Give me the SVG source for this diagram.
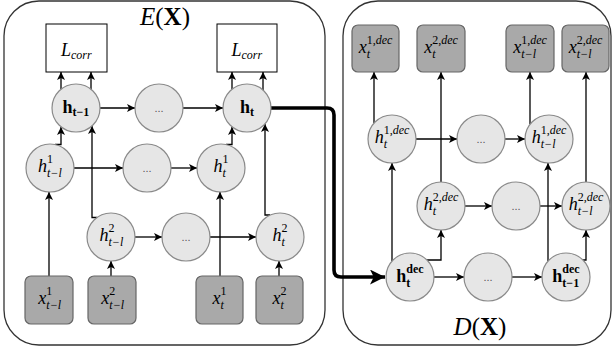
<svg xmlns="http://www.w3.org/2000/svg" width="613" height="351" viewBox="0 0 613 351">
<style>
.frame{fill:none;stroke:#333;stroke-width:1.3}
.nd circle{fill:#e6e6e6;stroke:#8a8a8a;stroke-width:1.2}
.in rect{fill:#a9a9a9;stroke:#666;stroke-width:1.2}
.loss rect{fill:#fff;stroke:#000;stroke-width:1}
.edge{fill:none;stroke:#000;stroke-width:1.3;marker-end:url(#ah)}
.thick{fill:none;stroke:#000;stroke-width:3.6;marker-end:url(#ahb)}
text{font-family:"Liberation Serif","DejaVu Serif",serif;fill:#000}
.m{font-style:italic;font-size:18px}
.bd{font-weight:bold;font-style:normal;font-size:18px}
.s{font-size:12px}
.u{font-style:normal}
.dots{font-family:"Liberation Sans",sans-serif;font-size:11px;fill:#555;text-anchor:middle;font-style:normal}
.title{font-size:25px;text-anchor:middle}
</style>
<defs>
<marker id="ah" viewBox="0 0 10 10" refX="10" refY="5" markerWidth="9" markerHeight="8" orient="auto" markerUnits="userSpaceOnUse"><path d="M0,0 L10,5 L0,10 L2.5,5 z" fill="#000"/></marker>
<marker id="ahb" viewBox="0 0 10 10" refX="10" refY="5" markerWidth="19" markerHeight="15" orient="auto" markerUnits="userSpaceOnUse"><path d="M0,0 L10,5 L0,10 L2.5,5 z" fill="#000"/></marker>
</defs>

<rect class="frame" x="4" y="1" width="321" height="344" rx="35"/>
<rect class="frame" x="343" y="1" width="268" height="344" rx="35"/>
<text class="title" x="165" y="25"><tspan font-style="italic">E</tspan>(<tspan font-weight="bold">X</tspan>)</text>
<text class="title" x="480" y="335" font-size="26"><tspan font-style="italic">D</tspan>(<tspan font-weight="bold">X</tspan>)</text>

<g id="connectors">
<path class="edge" d="M100,108 H135"/>
<path class="edge" d="M183,108 H223"/>
<path class="edge" d="M74,168 H123"/>
<path class="edge" d="M171,168 H197"/>
<path class="edge" d="M135,237 H162"/>
<path class="edge" d="M210,237 H256"/>
<path class="edge" d="M55,144.5 H61 V127"/>
<path class="edge" d="M97,217.5 H92 V126"/>
<path class="edge" d="M226,144.5 H232 V127"/>
<path class="edge" d="M270,215 H265 V124"/>
<path class="edge" d="M61,89 V72"/>
<path class="edge" d="M91,90 V72"/>
<path class="edge" d="M232,89 V72"/>
<path class="edge" d="M263,90 V72"/>
<path class="edge" d="M49,276 V192"/>
<path class="edge" d="M111,276 V261"/>
<path class="edge" d="M220,276 V192"/>
<path class="edge" d="M279,276 V261"/>
<path class="thick" d="M271,108 H327 Q334,108 334,115 V270 Q334,277 341,277 H385"/>
<path class="edge" d="M416,139 H457"/>
<path class="edge" d="M505,139 H525"/>
<path class="edge" d="M465,206 H492"/>
<path class="edge" d="M540,206 H562"/>
<path class="edge" d="M434,277 H464"/>
<path class="edge" d="M512,277 H542"/>
<path class="edge" d="M374,123 V72"/>
<path class="edge" d="M441,182 V72"/>
<path class="edge" d="M530,124 V72"/>
<path class="edge" d="M586,182 V72"/>
<path class="edge" d="M392,261 V163"/>
<path class="edge" d="M427,260 H441 V230"/>
<path class="edge" d="M548,261 V163"/>
<path class="edge" d="M583,260 H586 V230"/>
</g>

<g id="Lcorr1" class="loss"><rect x="46" y="24" width="61" height="48"/><text class="m" x="61" y="56" font-size="19">L<tspan class="s" dy="3">corr</tspan></text></g>
<g id="Lcorr2" class="loss"><rect x="217" y="24" width="60" height="48"/><text class="m" x="231.5" y="56" font-size="19">L<tspan class="s" dy="3">corr</tspan></text></g>

<g id="h_t-1" class="nd"><circle cx="76" cy="108" r="24"/><text class="bd" x="62.5" y="113">h<tspan font-size="12" dy="3">t−1</tspan></text></g>
<g id="e_dots1" class="nd"><circle cx="159" cy="108" r="24"/><text class="dots" x="159" y="112">...</text></g>
<g id="h_t" class="nd"><circle cx="247" cy="108" r="24"/><text class="bd" x="240" y="113">h<tspan font-size="12" dy="3">t</tspan></text></g>

<g id="h1_t-l" class="nd"><circle cx="50" cy="168" r="24"/><text class="m" x="38" y="172">h<tspan class="s u" dy="-9">1</tspan><tspan class="s" dx="-6" dy="14">t−l</tspan></text></g>
<g id="e_dots2" class="nd"><circle cx="147" cy="168" r="24"/><text class="dots" x="147" y="172">...</text></g>
<g id="h1_t" class="nd"><circle cx="221" cy="168" r="24"/><text class="m" x="213.5" y="172">h<tspan class="s u" dy="-9">1</tspan><tspan class="s" dx="-6" dy="14">t</tspan></text></g>

<g id="h2_t-l" class="nd"><circle cx="111" cy="237" r="24"/><text class="m" x="99.5" y="241">h<tspan class="s u" dy="-9">2</tspan><tspan class="s" dx="-6" dy="14">t−l</tspan></text></g>
<g id="e_dots3" class="nd"><circle cx="186" cy="237" r="24"/><text class="dots" x="186" y="241">...</text></g>
<g id="h2_t" class="nd"><circle cx="280" cy="237" r="24"/><text class="m" x="272.5" y="241">h<tspan class="s u" dy="-9">2</tspan><tspan class="s" dx="-6" dy="14">t</tspan></text></g>

<g id="x1_t-l" class="in"><rect x="25" y="276" width="48" height="48" rx="6"/><text class="m" x="38.3" y="304">x<tspan class="s u" dy="-9">1</tspan><tspan class="s" dx="-6" dy="14">t−l</tspan></text></g>
<g id="x2_t-l" class="in"><rect x="88" y="276" width="48" height="48" rx="6"/><text class="m" x="101.3" y="304">x<tspan class="s u" dy="-9">2</tspan><tspan class="s" dx="-6" dy="14">t−l</tspan></text></g>
<g id="x1_t" class="in"><rect x="196" y="276" width="47" height="48" rx="6"/><text class="m" x="212.5" y="304">x<tspan class="s u" dy="-9">1</tspan><tspan class="s" dx="-6" dy="14">t</tspan></text></g>
<g id="x2_t" class="in"><rect x="256" y="276" width="47" height="48" rx="6"/><text class="m" x="272.5" y="304">x<tspan class="s u" dy="-9">2</tspan><tspan class="s" dx="-6" dy="14">t</tspan></text></g>

<g id="xd1_t" class="in"><rect x="352" y="25" width="47" height="47" rx="6"/><text class="m" x="358.7" y="53">x<tspan class="s" dy="-9"><tspan class="u">1,</tspan>dec</tspan><tspan class="s" dx="-25.6" dy="14">t</tspan></text></g>
<g id="xd2_t" class="in"><rect x="417" y="25" width="48" height="47" rx="6"/><text class="m" x="424.2" y="53">x<tspan class="s" dy="-9"><tspan class="u">2,</tspan>dec</tspan><tspan class="s" dx="-25.6" dy="14">t</tspan></text></g>
<g id="xd1_t-l" class="in"><rect x="506" y="25" width="48" height="47" rx="6"/><text class="m" x="513.2" y="53">x<tspan class="s" dy="-9"><tspan class="u">1,</tspan>dec</tspan><tspan class="s" dx="-25.6" dy="14">t−l</tspan></text></g>
<g id="xd2_t-l" class="in"><rect x="562" y="25" width="47" height="47" rx="6"/><text class="m" x="568.7" y="53">x<tspan class="s" dy="-9"><tspan class="u">2,</tspan>dec</tspan><tspan class="s" dx="-25.6" dy="14">t−l</tspan></text></g>

<g id="hd1_t" class="nd"><circle cx="392" cy="139" r="24"/><text class="m" x="374.7" y="143">h<tspan class="s" dy="-9"><tspan class="u">1,</tspan>dec</tspan><tspan class="s" dx="-25.6" dy="14">t</tspan></text></g>
<g id="d_dots1" class="nd"><circle cx="481" cy="139" r="24"/><text class="dots" x="481" y="143">...</text></g>
<g id="hd1_t-l" class="nd"><circle cx="549" cy="139" r="24"/><text class="m" x="531.7" y="143">h<tspan class="s" dy="-9"><tspan class="u">1,</tspan>dec</tspan><tspan class="s" dx="-25.6" dy="14">t−l</tspan></text></g>

<g id="hd2_t" class="nd"><circle cx="441" cy="206" r="24"/><text class="m" x="423.7" y="210">h<tspan class="s" dy="-9"><tspan class="u">2,</tspan>dec</tspan><tspan class="s" dx="-25.6" dy="14">t</tspan></text></g>
<g id="d_dots2" class="nd"><circle cx="516" cy="206" r="24"/><text class="dots" x="516" y="210">...</text></g>
<g id="hd2_t-l" class="nd"><circle cx="586" cy="206" r="24"/><text class="m" x="568.7" y="210">h<tspan class="s" dy="-9"><tspan class="u">2,</tspan>dec</tspan><tspan class="s" dx="-25.6" dy="14">t−l</tspan></text></g>

<g id="hdec_t" class="nd"><circle cx="410" cy="277" r="24"/><text class="bd" x="396.3" y="282">h<tspan font-size="12" dy="-9">dec</tspan><tspan font-size="12" dx="-17.3" dy="14">t</tspan></text></g>
<g id="d_dots3" class="nd"><circle cx="488" cy="277" r="24"/><text class="dots" x="488" y="281">...</text></g>
<g id="hdec_t-1" class="nd"><circle cx="566" cy="277" r="24"/><text class="bd" x="552.3" y="282">h<tspan font-size="12" dy="-9">dec</tspan><tspan font-size="12" dx="-17.3" dy="14">t−1</tspan></text></g>
</svg>
